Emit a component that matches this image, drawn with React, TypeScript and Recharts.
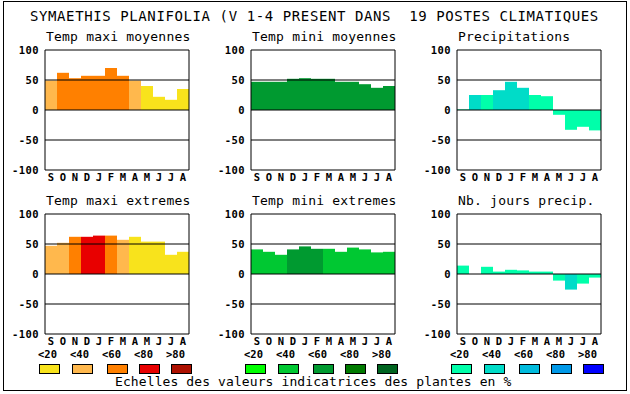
import { BarChart, Bar, Cell, XAxis, YAxis, ReferenceLine } from "recharts";

const MONTHS = ["S", "O", "N", "D", "J", "F", "M", "A", "M", "J", "J", "A"];
const Y_TICKS = [-100, -50, 0, 50, 100];
const SCALE_LABELS = ["<20", "<40", "<60", "<80", ">80"];

const HEAT_COLORS = ["#F8E31C", "#FFB84D", "#FF8000", "#E80000", "#AD1000"];
const GREEN_COLORS = ["#00FF00", "#00C832", "#009A30", "#007A00", "#006420"];
const WATER_COLORS = ["#00FFAA", "#00DCC8", "#00BBDD", "#0099E8", "#0000FF"];

// values in %, classes = index into the colour scale (<20 ... >80)
const maxiMoyValues = [49, 62, 53, 57, 57, 70, 57, 49, 40, 22, 17, 35];
const maxiMoyClasses = [1, 2, 2, 2, 2, 2, 2, 1, 0, 0, 0, 0];
const miniMoyValues = [47, 47, 47, 52, 53, 52, 52, 47, 47, 43, 37, 40];
const miniMoyClasses = [2, 2, 2, 2, 2, 2, 2, 2, 2, 2, 2, 2];
const precipValues = [1, 25, 25, 33, 47, 37, 25, 23, -8, -33, -28, -34];
const precipClasses = [0, 1, 0, 1, 1, 1, 0, 0, 0, 0, 0, 0];
const maxiExtValues = [47, 52, 62, 62, 64, 64, 57, 62, 54, 54, 32, 37];
const maxiExtClasses = [1, 1, 2, 3, 3, 2, 1, 0, 0, 0, 0, 0];
const miniExtValues = [41, 37, 32, 41, 46, 42, 42, 37, 44, 41, 36, 37];
const miniExtClasses = [1, 1, 1, 2, 2, 2, 1, 1, 1, 1, 1, 1];
const joursValues = [14, 0, 12, 4, 7, 6, 4, 4, -11, -26, -16, -6];
const joursClasses = [0, 0, 0, 0, 0, 0, 0, 0, 0, 1, 0, 0];

const COL_LEFT = [45, 251, 457];
const ROW_TOP = [50, 214];
const MONO = "'DejaVu Sans Mono', monospace";

function YTick(props: any) {
  const { x, y, payload } = props;
  return (
    <text
      x={x}
      y={y}
      textAnchor="end"
      dominantBaseline="central"
      fontFamily={MONO}
      fontWeight="bold"
      fontSize={10.5}
      letterSpacing={0.4}
      fill="#000"
    >
      {payload.value}
    </text>
  );
}

function XTick(props: any) {
  const { x, y, payload } = props;
  return (
    <text
      x={x}
      y={y + 7}
      textAnchor="middle"
      dominantBaseline="central"
      fontFamily={MONO}
      fontWeight="bold"
      fontSize={10.5}
      fill="#000"
    >
      {MONTHS[payload.value]}
    </text>
  );
}

function Panel({
  title,
  values,
  classes,
  colors,
  left,
  top,
}: {
  title: string;
  values: number[];
  classes: number[];
  colors: string[];
  left: number;
  top: number;
}) {
  const data = values.map((v, i) => ({ i, v }));
  return (
    <>
      <div
        style={{
          position: "absolute",
          left: left + 1,
          top: top - 20.5,
          fontFamily: MONO,
          fontSize: 13,
          lineHeight: "14px",
          letterSpacing: 0.2,
          whiteSpace: "pre",
        }}
      >
        {title}
      </div>
      <div style={{ position: "absolute", left: left - 40, top: top - 10 }}>
        <BarChart
          width={194}
          height={150}
          data={data}
          margin={{ top: 10, right: 10, bottom: 0, left: 0 }}
          barCategoryGap={0}
          barGap={0}
        >
          <XAxis
            dataKey="i"
            type="category"
            height={20}
            interval={0}
            tickLine={false}
            tickSize={0}
            tickMargin={0}
            axisLine={{ stroke: "#000" }}
            tick={XTick}
          />
          <YAxis
            type="number"
            domain={[-100, 100]}
            ticks={Y_TICKS}
            allowDataOverflow
            width={40}
            tickLine={false}
            tickSize={0}
            tickMargin={6}
            axisLine={{ stroke: "#000" }}
            tick={YTick}
          />
          <Bar dataKey="v" isAnimationActive={false}>
            {data.map((d) => (
              <Cell key={d.i} fill={colors[classes[d.i]]} />
            ))}
          </Bar>
          <ReferenceLine y={100} stroke="#000" />
          <ReferenceLine y={50} stroke="#000" />
          <ReferenceLine y={0} stroke="#000" />
          <ReferenceLine y={-50} stroke="#000" />
          <ReferenceLine x={11} position="end" stroke="#000" />
        </BarChart>
      </div>
    </>
  );
}

const GROUP_LEFT = [39, 245, 451];
const LABEL_OFFSET = [0, 32, 64, 96, 128];
const SWATCH_OFFSET = [0, 33, 68, 100, 132];

function Legend({ colors, left }: { colors: string[]; left: number }) {
  return (
    <>
      {SCALE_LABELS.map((label, k) => (
        <div
          key={"l" + k}
          style={{
            position: "absolute",
            left: left + LABEL_OFFSET[k] - 1,
            top: 348,
            fontFamily: MONO,
            fontWeight: "bold",
            fontSize: 10.5,
            lineHeight: "12px",
          }}
        >
          {label}
        </div>
      ))}
      {colors.map((c, k) => (
        <div
          key={"s" + k}
          style={{
            position: "absolute",
            left: left + SWATCH_OFFSET[k],
            top: 364,
            width: 21,
            height: 10,
            boxSizing: "border-box",
            border: "1px solid #000",
            background: c,
          }}
        />
      ))}
    </>
  );
}

export default function App() {
  return (
    <div
      style={{
        position: "absolute",
        left: 0,
        top: 0,
        width: 630,
        height: 394,
        background: "#fff",
        color: "#000",
      }}
    >
      <div
        style={{
          position: "absolute",
          left: 3,
          top: 1,
          width: 624,
          height: 390,
          boxSizing: "border-box",
          border: "1px solid #000",
        }}
      />
      <div
        style={{
          position: "absolute",
          left: 30,
          top: 8,
          fontFamily: MONO,
          fontSize: 14,
          lineHeight: "16px",
          letterSpacing: 0.6,
          whiteSpace: "pre",
        }}
      >
        SYMAETHIS PLANIFOLIA (V 1-4 PRESENT DANS  19 POSTES CLIMATIQUES
      </div>

      <Panel title="Temp maxi moyennes" values={maxiMoyValues} classes={maxiMoyClasses} colors={HEAT_COLORS} left={COL_LEFT[0]} top={ROW_TOP[0]} />
      <Panel title="Temp mini moyennes" values={miniMoyValues} classes={miniMoyClasses} colors={GREEN_COLORS} left={COL_LEFT[1]} top={ROW_TOP[0]} />
      <Panel title="Precipitations" values={precipValues} classes={precipClasses} colors={WATER_COLORS} left={COL_LEFT[2]} top={ROW_TOP[0]} />
      <Panel title="Temp maxi extremes" values={maxiExtValues} classes={maxiExtClasses} colors={HEAT_COLORS} left={COL_LEFT[0]} top={ROW_TOP[1]} />
      <Panel title="Temp mini extremes" values={miniExtValues} classes={miniExtClasses} colors={GREEN_COLORS} left={COL_LEFT[1]} top={ROW_TOP[1]} />
      <Panel title="Nb. jours precip." values={joursValues} classes={joursClasses} colors={WATER_COLORS} left={COL_LEFT[2]} top={ROW_TOP[1]} />

      <Legend colors={HEAT_COLORS} left={GROUP_LEFT[0]} />
      <Legend colors={GREEN_COLORS} left={GROUP_LEFT[1]} />
      <Legend colors={WATER_COLORS} left={GROUP_LEFT[2]} />

      <div
        style={{
          position: "absolute",
          left: 115,
          top: 374.5,
          fontFamily: MONO,
          fontSize: 13,
          lineHeight: "14px",
          letterSpacing: 0.1,
          whiteSpace: "pre",
        }}
      >
        Echelles des valeurs indicatrices des plantes en %
      </div>
    </div>
  );
}
